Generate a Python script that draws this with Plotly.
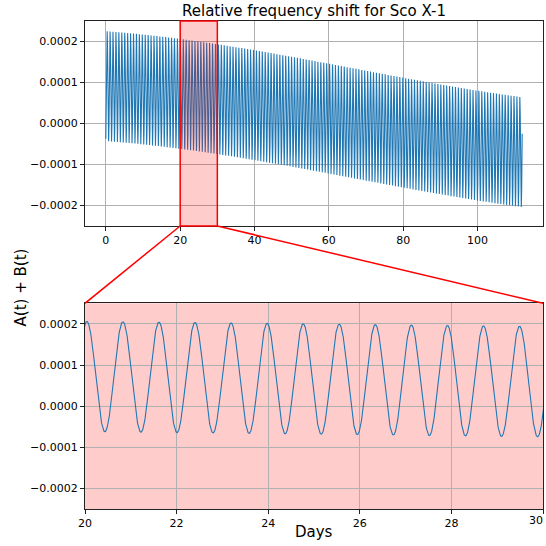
import numpy as np
import plotly.graph_objects as go

# ---- values ----
# observation span (days)
span_days = [0.0, 112.0]
sample_step_days = 0.005
# B(t): binary orbital Doppler term of Sco X-1
orbital_period_days = 0.7873
orbital_peak_day = 20.04
orbital_amplitude = 1.34e-4
# A(t): Earth's annual motion term
annual_period_days = 365.25
annual_amplitude = 1.0e-4
annual_phase_rad = 0.42

# axes / ticks
top_x_range = [-5.6, 117.6]
zoom_x_range = [20.0, 30.0]
y_range = [-2.5e-4, 2.5e-4]
top_x_ticks = [0, 20, 40, 60, 80, 100]
zoom_x_ticks = [20, 22, 24, 26, 28, 30]
y_ticks = [-2e-4, -1e-4, 0.0, 1e-4, 2e-4]
y_tick_labels = ["\u22120.0002", "\u22120.0001", "0.0000", "0.0001", "0.0002"]

title_text = "Relative frequency shift for Sco X-1"
y_label = "A(t) + B(t)"
x_label = "Days"

# ---- series ----
t = np.arange(span_days[0], span_days[1] + sample_step_days / 2, sample_step_days)
A = annual_amplitude * np.cos(2 * np.pi * t / annual_period_days + annual_phase_rad)
B = orbital_amplitude * np.cos(2 * np.pi * (t - orbital_peak_day) / orbital_period_days)
shift = A + B

FONT = "DejaVu Sans"
BLUE = "#1f77b4"
GRID = "#b0b0b0"

top_dom = [0.58, 1.0]
bot_dom = [0.0, 0.4215]

fig = go.Figure()
fig.add_trace(go.Scatter(x=t, y=shift, mode="lines", line=dict(color=BLUE, width=1.1),
                         xaxis="x", yaxis="y", hoverinfo="skip"))
fig.add_trace(go.Scatter(x=t, y=shift, mode="lines", line=dict(color=BLUE, width=1.1),
                         xaxis="x2", yaxis="y2", hoverinfo="skip"))

axis_common = dict(showgrid=True, gridcolor=GRID, gridwidth=1, zeroline=False,
                   showline=True, linecolor="#222", linewidth=1, mirror=True,
                   ticks="outside", ticklen=4, tickcolor="#222", tickwidth=1,
                   tickfont=dict(family=FONT, size=11, color="black"))

fig.update_layout(
    width=546, height=546,
    margin=dict(l=85, r=3, t=21, b=37),
    paper_bgcolor="white", plot_bgcolor="white",
    showlegend=False,
    xaxis=dict(domain=[0, 1], anchor="y", range=top_x_range, tickvals=top_x_ticks, **axis_common),
    yaxis=dict(domain=top_dom, anchor="x", range=y_range, tickvals=y_ticks, ticktext=y_tick_labels, **axis_common),
    xaxis2=dict(domain=[0, 1], anchor="y2", range=zoom_x_range, tickvals=zoom_x_ticks, **axis_common),
    yaxis2=dict(domain=bot_dom, anchor="x2", range=y_range, tickvals=y_ticks, ticktext=y_tick_labels, **axis_common),
)

shapes = [
    # highlighted window on the overview
    dict(type="rect", xref="x", yref="y domain", x0=zoom_x_range[0], x1=zoom_x_range[1], y0=0, y1=1,
         fillcolor="rgba(255,0,0,0.2)", line=dict(color="red", width=1.5), layer="above"),
    # pink background of the zoom panel
    dict(type="rect", xref="x2 domain", yref="y2 domain", x0=0, x1=1, y0=0, y1=1,
         fillcolor="#ffcccc", line=dict(width=0), layer="below"),
    # connector lines
    dict(type="line", xref="x", yref="paper", x0=zoom_x_range[0], y0=top_dom[0], x1=top_x_range[0], y1=bot_dom[1],
         line=dict(color="red", width=1.5)),
    dict(type="line", xref="x", yref="paper", x0=zoom_x_range[1], y0=top_dom[0], x1=top_x_range[1], y1=bot_dom[1],
         line=dict(color="red", width=1.5)),
]
fig.update_layout(shapes=shapes)

fig.add_annotation(text=title_text, xref="paper", yref="paper", x=0.5, y=1, xanchor="center", yanchor="bottom",
                   yshift=-1, showarrow=False, font=dict(family=FONT, size=15, color="black"))
fig.add_annotation(text=y_label, xref="paper", yref="paper", x=0, y=0.454, xanchor="center", yanchor="middle",
                   xshift=-64, textangle=-90, showarrow=False, font=dict(family=FONT, size=15, color="black"))
fig.add_annotation(text=x_label, xref="paper", yref="paper", x=0.5, y=0, xanchor="center", yanchor="middle",
                   yshift=-23, showarrow=False, font=dict(family=FONT, size=15, color="black"))
# last zoom tick label (plotly hides it because it overflows the page edge); kept right-aligned so it stays visible
fig.add_annotation(text=str(zoom_x_ticks[-1]), xref="x2", yref="paper", x=zoom_x_ticks[-1], y=0,
                   xanchor="right", yanchor="middle", xshift=2, yshift=-11, showarrow=False,
                   font=dict(family=FONT, size=11, color="black"))

fig.write_html("out.html")
